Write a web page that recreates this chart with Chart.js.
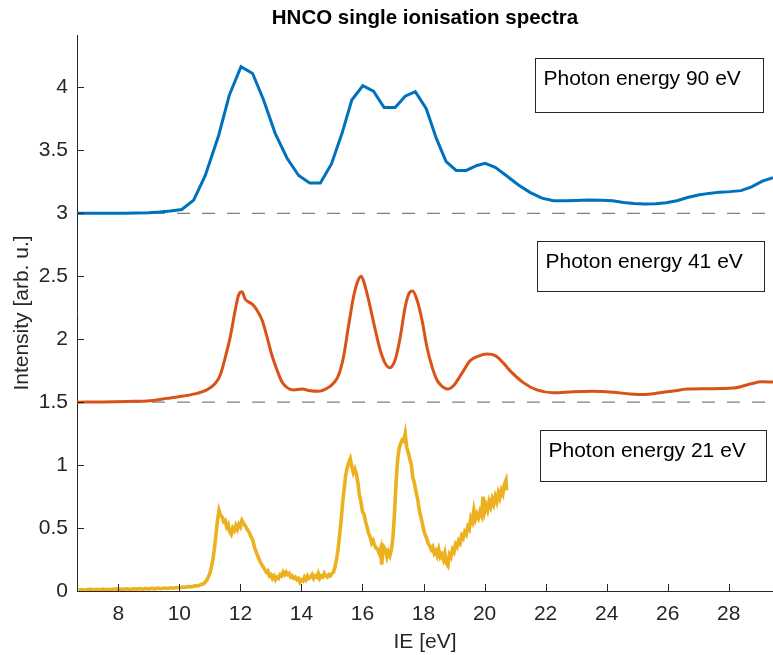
<!DOCTYPE html>
<html><head><meta charset="utf-8">
<script src="https://cdn.jsdelivr.net/npm/chart.js@4.4.0/dist/chart.umd.min.js"></script>
<style>html,body{margin:0;padding:0;background:#fff}#wrap{width:773px;height:655px}</style>
</head><body><div id="wrap"><canvas id="c" width="773" height="655"></canvas></div>
<script>
// ---- tick labels ----
const xTicks = [8, 10, 12, 14, 16, 18, 20, 22, 24, 26, 28];
const yTicks = [0, 0.5, 1, 1.5, 2, 2.5, 3, 3.5, 4];
const titleText = 'HNCO single ionisation spectra';

// ---- Photon energy 90 eV (offset +3) ----
const e90X = [6.65, 7.0, 7.4, 7.8, 8.2, 8.6, 9.0, 9.35, 9.7, 10.08, 10.47, 10.85, 11.29, 11.64, 12.02, 12.40, 12.76, 13.14, 13.53, 13.91, 14.27, 14.62, 14.98, 15.33, 15.65, 16.01, 16.36, 16.71, 17.07, 17.40, 17.73, 18.09, 18.42, 18.74, 19.07, 19.40, 19.75, 20.02, 20.35, 20.73, 21.11, 21.50, 21.88, 22.26, 22.64, 23.0, 23.4, 23.8, 24.2, 24.55, 24.9, 25.25, 25.6, 25.95, 26.3, 26.65, 27.0, 27.35, 27.7, 28.05, 28.4, 28.75, 29.1, 29.45];
const e90Y = [3.0, 3.0, 3.0, 3.0, 3.0, 3.002, 3.005, 3.01, 3.018, 3.03, 3.105, 3.30, 3.62, 3.94, 4.165, 4.11, 3.90, 3.635, 3.437, 3.30, 3.24, 3.24, 3.39, 3.635, 3.90, 4.013, 3.97, 3.84, 3.84, 3.93, 3.966, 3.83, 3.595, 3.41, 3.34, 3.34, 3.38, 3.397, 3.365, 3.296, 3.225, 3.164, 3.12, 3.10, 3.10, 3.102, 3.105, 3.103, 3.10, 3.085, 3.078, 3.074, 3.076, 3.084, 3.10, 3.125, 3.145, 3.158, 3.168, 3.172, 3.18, 3.21, 3.255, 3.283];

// ---- Photon energy 41 eV (offset +1.5) ----
const e41X = [6.65, 7.5, 8.3, 9.05, 9.59, 10.14, 10.58, 10.90, 11.18, 11.34, 11.51, 11.67, 11.83, 11.94, 12.05, 12.16, 12.38, 12.54, 12.71, 12.87, 13.03, 13.20, 13.36, 13.53, 13.74, 14.02, 14.29, 14.56, 14.84, 15.05, 15.22, 15.38, 15.54, 15.71, 15.84, 15.96, 16.09, 16.25, 16.42, 16.58, 16.74, 16.89, 17.07, 17.24, 17.40, 17.54, 17.64, 17.78, 17.95, 18.11, 18.28, 18.44, 18.60, 18.80, 18.98, 19.26, 19.53, 19.80, 20.08, 20.35, 20.62, 20.84, 21.27, 21.71, 22.26, 22.91, 23.57, 24.22, 24.77, 25.21, 25.75, 26.19, 26.63, 27.28, 28.15, 28.70, 29.08, 29.45];
const e41Y = [1.50, 1.502, 1.506, 1.512, 1.53, 1.549, 1.57, 1.597, 1.65, 1.716, 1.86, 2.02, 2.23, 2.35, 2.377, 2.317, 2.28, 2.232, 2.152, 2.02, 1.874, 1.755, 1.662, 1.615, 1.597, 1.604, 1.59, 1.586, 1.61, 1.65, 1.716, 1.86, 2.10, 2.34, 2.457, 2.50, 2.417, 2.258, 2.073, 1.914, 1.81, 1.774, 1.835, 2.02, 2.258, 2.37, 2.383, 2.317, 2.152, 1.94, 1.78, 1.676, 1.628, 1.604, 1.63, 1.73, 1.83, 1.866, 1.882, 1.869, 1.81, 1.748, 1.655, 1.597, 1.575, 1.583, 1.586, 1.578, 1.565, 1.56, 1.575, 1.588, 1.604, 1.607, 1.612, 1.644, 1.662, 1.66];

// ---- Photon energy 21 eV (no offset) ----
const e21X = [6.7, 6.8, 6.9, 7.0, 7.1, 7.2, 7.3, 7.4, 7.5, 7.6, 7.7, 7.8, 7.9, 8.0, 8.1, 8.2, 8.3, 8.4, 8.5, 8.6, 8.7, 8.8, 8.9, 9.0, 9.1, 9.2, 9.3, 9.4, 9.5, 9.6, 9.7, 9.8, 9.9, 10.0, 10.1, 10.2, 10.3, 10.4, 10.5, 10.6, 10.7, 10.8, 10.9,
  11.00, 11.05, 11.10, 11.15, 11.20, 11.25, 11.30, 11.35, 11.40, 11.45, 11.50, 11.55, 11.60, 11.65, 11.70, 11.75, 11.80, 11.85, 11.90, 11.95,
  12.00, 12.05, 12.10, 12.15, 12.20, 12.25, 12.30, 12.35, 12.40, 12.45, 12.50, 12.55, 12.60, 12.65, 12.70, 12.75, 12.80, 12.85, 12.90, 12.95,
  13.00, 13.05, 13.10, 13.15, 13.20, 13.25, 13.30, 13.35, 13.40, 13.45, 13.50, 13.55, 13.60, 13.65, 13.70, 13.75, 13.80, 13.85, 13.90, 13.95,
  14.00, 14.05, 14.10, 14.15, 14.20, 14.25, 14.30, 14.35, 14.40, 14.45, 14.50, 14.55, 14.60, 14.65, 14.70, 14.75, 14.80, 14.85, 14.90, 14.95,
  15.00, 15.05, 15.10, 15.15, 15.20, 15.25, 15.30, 15.35, 15.40, 15.45, 15.50, 15.55, 15.60, 15.65, 15.70, 15.75, 15.80, 15.85, 15.90, 15.95,
  16.00, 16.05, 16.10, 16.15, 16.20, 16.25, 16.30, 16.35, 16.40, 16.45, 16.50, 16.55, 16.60, 16.63, 16.66, 16.70, 16.75, 16.80, 16.85, 16.90, 16.95,
  17.00, 17.05, 17.10, 17.15, 17.20, 17.25, 17.30, 17.35, 17.40, 17.45, 17.50, 17.55, 17.60, 17.65, 17.70, 17.75, 17.80, 17.85, 17.90, 17.95,
  18.00, 18.05, 18.10, 18.15, 18.20, 18.25, 18.30, 18.35, 18.40, 18.45, 18.50, 18.55, 18.60, 18.65, 18.70, 18.75, 18.80, 18.85, 18.90, 18.95,
  19.00, 19.05, 19.10, 19.15, 19.20, 19.25, 19.30, 19.35, 19.40, 19.45, 19.50, 19.55, 19.60, 19.65, 19.70, 19.75, 19.80, 19.85, 19.90, 19.95,
  20.00, 20.05, 20.10, 20.15, 20.20, 20.25, 20.30, 20.35, 20.40, 20.45, 20.50, 20.55, 20.60, 20.65, 20.70, 20.72];
const e21Y = [0.008, 0.012, 0.006, 0.011, 0.014, 0.008, 0.013, 0.010, 0.015, 0.009, 0.014, 0.012, 0.017, 0.011, 0.016, 0.013, 0.018, 0.012, 0.017, 0.015, 0.020, 0.014, 0.019, 0.016, 0.021, 0.017, 0.023, 0.018, 0.024, 0.020, 0.026, 0.022, 0.028, 0.024, 0.031, 0.029, 0.036, 0.033, 0.042, 0.040, 0.050, 0.058, 0.085,
  0.14, 0.19, 0.25, 0.34, 0.45, 0.56, 0.64, 0.60, 0.59, 0.55, 0.56, 0.51, 0.53, 0.47, 0.45, 0.50, 0.48, 0.52, 0.49, 0.53,
  0.51, 0.56, 0.54, 0.52, 0.50, 0.48, 0.46, 0.43, 0.41, 0.36, 0.32, 0.29, 0.26, 0.23, 0.21, 0.19, 0.17, 0.15, 0.16, 0.12,
  0.13, 0.10, 0.12, 0.09, 0.11, 0.10, 0.13, 0.12, 0.15, 0.13, 0.15, 0.13, 0.14, 0.11, 0.12, 0.10, 0.11, 0.09, 0.10, 0.07,
  0.09, 0.08, 0.11, 0.09, 0.12, 0.10, 0.11, 0.13, 0.10, 0.12, 0.11, 0.14, 0.10, 0.12, 0.11, 0.14, 0.12, 0.11, 0.13, 0.12,
  0.14, 0.15, 0.19, 0.25, 0.33, 0.44, 0.56, 0.70, 0.81, 0.92, 0.98, 1.02, 1.05, 0.99, 0.94, 0.97, 0.93, 0.86, 0.76, 0.71,
  0.63, 0.61, 0.55, 0.51, 0.46, 0.43, 0.38, 0.40, 0.36, 0.34, 0.33, 0.30, 0.34, 0.21, 0.30, 0.35, 0.33, 0.27, 0.31, 0.28, 0.33,
  0.43, 0.62, 0.86, 1.04, 1.13, 1.17, 1.20, 1.19, 1.25, 1.14, 1.10, 1.05, 1.00, 0.90, 0.86, 0.79, 0.74, 0.66, 0.60, 0.55,
  0.49, 0.45, 0.42, 0.38, 0.36, 0.33, 0.35, 0.30, 0.32, 0.28, 0.33, 0.27, 0.29, 0.25, 0.30, 0.22, 0.20, 0.29, 0.27, 0.33,
  0.31, 0.37, 0.35, 0.40, 0.38, 0.44, 0.42, 0.47, 0.45, 0.51, 0.49, 0.58, 0.55, 0.64, 0.57, 0.61, 0.58, 0.63, 0.60, 0.75,
  0.63, 0.68, 0.64, 0.71, 0.67, 0.73, 0.69, 0.75, 0.71, 0.78, 0.74, 0.80, 0.77, 0.85, 0.88, 0.80];

// ---- dashed baselines ----
const baselineLevels = [3, 1.5];
const xRange = [6.647, 29.45];
const yRange = [0, 4.416];

// ---- annotation labels ----
const boxLabels = ['Photon energy 90 eV', 'Photon energy 41 eV', 'Photon energy 21 eV'];
const boxPos = [
  {x1: 21.66, x2: 29.12, yTop: 4.231, yBot: 3.807},
  {x1: 21.73, x2: 29.17, yTop: 2.782, yBot: 2.385},
  {x1: 21.80, x2: 29.22, yTop: 1.279, yBot: 0.874}
];

const FONT = "'Liberation Sans', Arial, Helvetica, sans-serif";
const pts = (xs, ys) => xs.map((x, i) => ({x: x, y: ys[i]}));

const datasets = [];
datasets.push({data: pts(e90X, e90Y), borderColor: '#0072BD', borderWidth: 3, pointRadius: 0, tension: 0, order: 1});
datasets.push({data: pts(e41X, e41Y), borderColor: '#D95319', borderWidth: 3, pointRadius: 0, cubicInterpolationMode: 'monotone', order: 2});
datasets.push({data: pts(e21X, e21Y), borderColor: '#EDB120', borderWidth: 3.6, pointRadius: 0, tension: 0, order: 3});
baselineLevels.forEach((lv, i) => {
  datasets.push({data: pts(xRange, [lv, lv]), borderColor: '#808080', borderWidth: 1.2, borderDash: [13, 12], pointRadius: 0, order: 10 + i});
});

const innerTicks = {
  id: 'innerTicks',
  afterDraw(chart) {
    const ctx = chart.ctx, xs = chart.scales.x, ys = chart.scales.y, a = chart.chartArea;
    ctx.save();
    ctx.strokeStyle = '#262626';
    ctx.lineWidth = 1;
    ctx.beginPath();
    xTicks.forEach(v => { const p = Math.round(xs.getPixelForValue(v)) + 0.5; ctx.moveTo(p, a.bottom); ctx.lineTo(p, a.bottom - 7); });
    yTicks.forEach(v => { const p = Math.round(ys.getPixelForValue(v)) + 0.5; ctx.moveTo(a.left, p); ctx.lineTo(a.left + 7, p); });
    ctx.stroke();
    // title centred over the plot area
    ctx.fillStyle = '#000000';
    ctx.font = 'bold 20.5px ' + FONT;
    ctx.textAlign = 'center';
    ctx.textBaseline = 'middle';
    ctx.fillText(titleText, (a.left + a.right) / 2, 18);
    ctx.restore();
  }
};

const textBoxes = {
  id: 'textBoxes',
  afterDatasetsDraw(chart) {
    const ctx = chart.ctx, xs = chart.scales.x, ys = chart.scales.y;
    ctx.save();
    boxPos.forEach((b, i) => {
      const l = Math.round(xs.getPixelForValue(b.x1)) + 0.5, r = Math.round(xs.getPixelForValue(b.x2)) + 0.5;
      const t = Math.round(ys.getPixelForValue(b.yTop)) + 0.5, bt = Math.round(ys.getPixelForValue(b.yBot)) + 0.5;
      ctx.fillStyle = '#ffffff';
      ctx.fillRect(l, t, r - l, bt - t);
      ctx.strokeStyle = '#262626';
      ctx.lineWidth = 1;
      ctx.strokeRect(l, t, r - l, bt - t);
      ctx.fillStyle = '#000000';
      ctx.font = '21px ' + FONT;
      ctx.textBaseline = 'alphabetic';
      ctx.textAlign = 'left';
      ctx.fillText(boxLabels[i], l + 8, t + 26);
    });
    ctx.restore();
  }
};

new Chart(document.getElementById('c'), {
  type: 'line',
  data: {datasets: datasets},
  options: {
    responsive: false,
    animation: false,
    events: [],
    layout: {padding: {left: 0, right: 0, top: 35, bottom: 0}},
    plugins: {
      legend: {display: false},
      tooltip: {enabled: false},
      title: {display: false}
    },
    scales: {
      x: {
        type: 'linear', min: xRange[0], max: xRange[1],
        afterBuildTicks: s => { s.ticks = xTicks.map(v => ({value: v})); },
        afterFit: s => { s.height = 64; },
        grid: {display: false, drawTicks: false},
        border: {display: true, color: '#262626', width: 1},
        ticks: {color: '#262626', font: {family: FONT, size: 21}, padding: 11, maxRotation: 0, autoSkip: false, callback: v => String(v)},
        title: {display: true, text: 'IE [eV]', color: '#262626', font: {family: FONT, size: 21}, padding: {top: 0, bottom: 0}}
      },
      y: {
        type: 'linear', min: yRange[0], max: yRange[1],
        afterBuildTicks: s => { s.ticks = yTicks.map(v => ({value: v})); },
        afterFit: s => { s.width = 77; },
        grid: {display: false, drawTicks: false},
        border: {display: true, color: '#262626', width: 1},
        ticks: {color: '#262626', font: {family: FONT, size: 21}, padding: 9, autoSkip: false, callback: v => String(v)},
        title: {display: true, text: 'Intensity [arb. u.]', color: '#262626', font: {family: FONT, size: 21}, padding: {top: 10, bottom: 0}}
      }
    }
  },
  plugins: [innerTicks, textBoxes]
});
</script>
</body></html>
